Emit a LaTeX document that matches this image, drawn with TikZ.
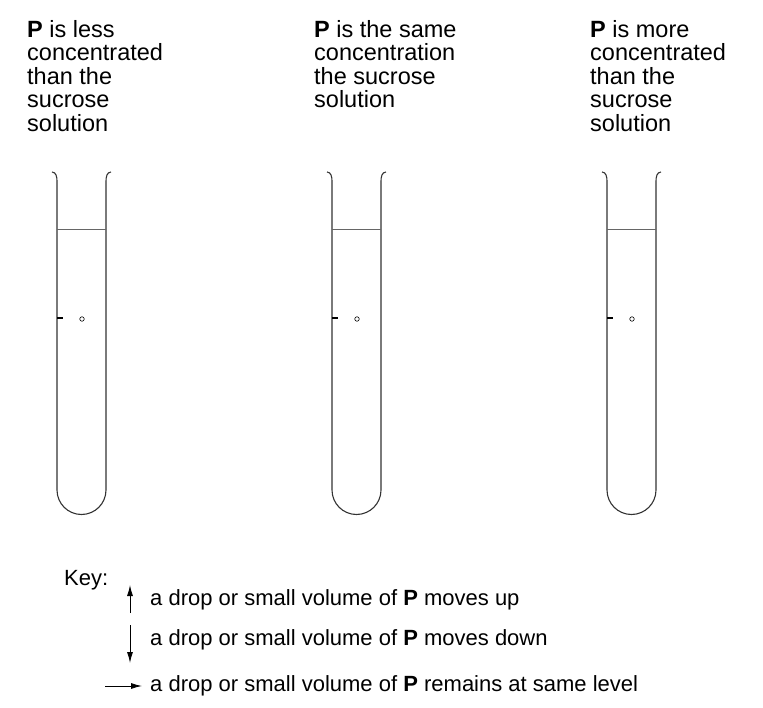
\documentclass[tikz,border=0pt]{standalone}
\usepackage{fontspec}
\setmainfont{Liberation Sans}
\usetikzlibrary{arrows.meta, positioning}
\begin{document}
\begin{tikzpicture}[
      x=1pt, y=-1pt,
      label text/.style={anchor=north west,align=left,inner sep=0pt,font=\fontsize{23.5}{23.5}\selectfont},
      key text/.style={anchor=west,inner sep=0pt,font=\fontsize{22}{24}\selectfont},
      tube/.style={line width=1.1pt,black!80},
      level/.style={line width=0.8pt,black!60},
      key arrow/.style={-{Latex[length=11pt,width=6pt]},line width=0.9pt}
      ]
      \useasboundingbox (0,0) rectangle (763,708);
      % labels
      \node [label text] (lbl1) at (27,20) {\textbf{P} is less\\concentrated\\than the\\sucrose\\solution};
      \node [label text] (lbl2) at (314,20) {\textbf{P} is the same\\concentration\\the sucrose\\solution};
      \node [label text] (lbl3) at (590,20) {\textbf{P} is more\\concentrated\\than the\\sucrose\\solution};
      % tubes
      \foreach \x/\n in {57/1,332/2,607/3} {
          \draw [tube] (\x-5,172) to[out=0,in=90] (\x,181) -- (\x,490)
              arc[start angle=180,end angle=0,radius=24.5] -- (\x+49,181)
              to[out=90,in=180] (\x+54,172);
          \draw [level] (\x,229) -- (\x+49,229);
          \draw [line width=2pt] (\x,318) -- (\x+6,318);
          \node [draw,circle,inner sep=0pt,minimum size=4.5pt,line width=0.6pt] (drop\n) at (\x+25,319) {};
      }
      % key
      \node [key text] (key) at (64,580) {Key:};
      \node [key text] (up) at (150,600) {a drop or small volume of \textbf{P} moves up};
      \node [key text] (down) at (150,640) {a drop or small volume of \textbf{P} moves down};
      \node [key text] (same) at (150,686) {a drop or small volume of \textbf{P} remains at same level};
      \coordinate (u1) at (130,613); \coordinate (u2) at (130,585);
      \coordinate (d1) at (130,625); \coordinate (d2) at (130,663);
      \coordinate (r1) at (105,686); \coordinate (r2) at (142,686);
      \draw [key arrow] (u1) -- (u2);
      \draw [key arrow] (d1) -- (d2);
      \draw [key arrow] (r1) -- (r2);
\end{tikzpicture}
\end{document}
